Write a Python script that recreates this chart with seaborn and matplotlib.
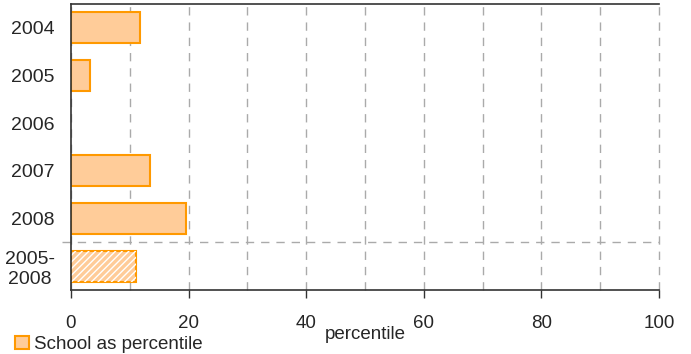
import matplotlib
matplotlib.use("Agg")
import matplotlib.pyplot as plt
import seaborn as sns
import numpy as np
import pandas as pd
from matplotlib.patches import Patch, Rectangle

# data
years = ["2004", "2005", "2006", "2007", "2008", "2005-\n2008"]
percentile = [11.8, 3.2, np.nan, 13.4, 19.6, 11.1]
x_ticks = [0, 20, 40, 60, 80, 100]

fill_color = "#FFCC99"
edge_color = "#FF9900"

sns.set_style("white")
plt.rcParams["font.family"] = ["Liberation Sans", "DejaVu Sans"]

df = pd.DataFrame({"year": years, "percentile": percentile})

fig = plt.figure(figsize=(6.91, 3.54), dpi=100)
ax = fig.add_axes([0.1027, 0.1808, 0.851, 0.8079])

sns.barplot(data=df, x="percentile", y="year", order=years, orient="h",
            color=fill_color, saturation=1, width=0.65,
            edgecolor=edge_color, linewidth=1.5, ax=ax)

# drop empty bars (no data for 2006)
for p in list(ax.patches):
    if not np.isfinite(p.get_width()) or p.get_width() == 0:
        p.remove()

# hatch the 2005-2008 average bar
for p in list(ax.patches):
    if abs(p.get_y() + p.get_height() / 2 - 5) < 0.1:
        ax.add_patch(Rectangle((p.get_x(), p.get_y()), p.get_width(), p.get_height(),
                               facecolor="none", edgecolor="white", hatch="/////",
                               linewidth=0, zorder=p.get_zorder() + 0.1))

ax.set_xlim(0, 100)
ax.set_ylim(5.5, -0.5)
ax.set_xticks(x_ticks)
ax.set_xticks(range(0, 101, 10), minor=True)
ax.grid(axis="x", which="both", color="#aaaaaa", linestyle=(0, (6, 5)), linewidth=1)
for t in ax.xaxis.get_major_ticks() + ax.xaxis.get_minor_ticks():
    t.gridline.set_clip_on(False)
ax.set_axisbelow(True)

# separator between single years and the average
ax.plot([-0.015, 1], [4.5, 4.5], transform=ax.get_yaxis_transform(),
        color="#aaaaaa", linestyle=(0, (6, 5)), linewidth=1, clip_on=False)

for side in ["left", "top", "bottom"]:
    ax.spines[side].set_color("#333333")
    ax.spines[side].set_linewidth(1.2)
ax.spines["right"].set_visible(False)

ax.tick_params(axis="x", which="major", bottom=True, length=6, width=1, color="#333333",
               pad=12, labelsize=13.5)
ax.tick_params(axis="x", which="minor", bottom=False)
ax.tick_params(axis="y", left=False, pad=8, labelsize=14)
for lbl in ax.get_yticklabels():
    lbl.set_multialignment("center")

ax.set_ylabel("")
ax.set_xlabel("percentile", fontsize=13.5)
ax.xaxis.set_label_coords(0.5, -0.125)

fig.legend(handles=[Patch(facecolor=fill_color, edgecolor=edge_color, linewidth=1.5)],
           labels=["School as percentile"], loc="lower left", bbox_to_anchor=(0.003, -0.035),
           frameon=False, fontsize=13.5, handlelength=0.75, handleheight=0.7,
           handletextpad=0.25, borderpad=0.2)

fig.savefig("out.png", dpi=100)
